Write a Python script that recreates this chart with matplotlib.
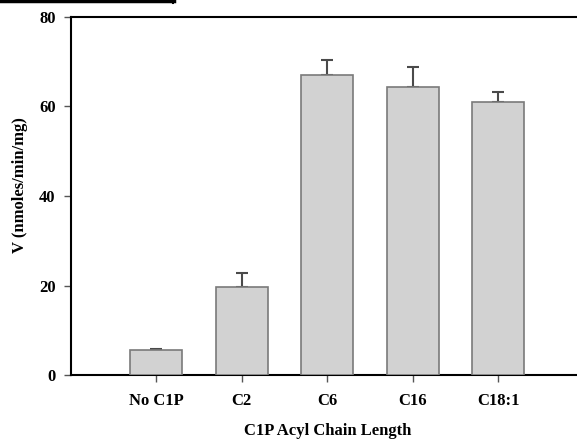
import matplotlib.pyplot as plt
from matplotlib.lines import Line2D

categories = ['No C1P', 'C2', 'C6', 'C16', 'C18:1']
rates = [5.5, 19.6, 67.1, 64.4, 61.0]
errors = [0.3, 3.1, 3.3, 4.4, 2.2]
yticks = [0, 20, 40, 60, 80]

plt.rcParams['font.family'] = ['Liberation Serif', 'DejaVu Serif']
plt.rcParams['font.weight'] = 'bold'

W, H = 577, 440
fig = plt.figure(figsize=(W / 100, H / 100), dpi=100)
ax = fig.add_axes([71 / W, 1 - 375 / H, (583.5 - 71) / W, (375 - 17) / H])

pos = list(range(1, len(categories) + 1))
ax.bar(pos, rates, width=0.61, color='#d2d2d2', edgecolor='#7a7a7a', linewidth=1.2, zorder=3)
ax.errorbar(pos, rates, yerr=[[0] * len(errors), errors], fmt='none', ecolor='#4a4a4a',
            elinewidth=1.5, capsize=4, capthick=1.5, zorder=2)

ax.set_xlim(0, 6)
ax.set_ylim(0, 80)
ax.set_xticks(pos)
ax.set_xticklabels(categories, fontsize=12, fontweight='bold')
ax.set_yticks(yticks)
ax.set_yticklabels([str(t) for t in yticks], fontsize=12, fontweight='bold')
ax.tick_params(direction='out', length=5, width=1, color='#555555', pad=6)
ax.tick_params(axis='x', pad=8)
ax.spines['right'].set_visible(False)
for s in ['left', 'bottom', 'top']:
    ax.spines[s].set_linewidth(1.5)

ax.set_ylabel('V (nmoles/min/mg)', fontsize=12, fontweight='bold')
ax.yaxis.set_label_coords((20 - 71) / 512.5, (375 - 185) / 358)
ax.yaxis.label.set_verticalalignment('center')
ax.set_xlabel('C1P Acyl Chain Length', fontsize=12, fontweight='bold')
ax.xaxis.set_label_coords(0.5, (375 - 431) / 358)
ax.xaxis.label.set_verticalalignment('center')

# cropped frame fragment at top-left
fig.add_artist(Line2D([0, 174 / W], [1 - 1.5 / H, 1 - 1.5 / H], color='black', lw=2.5))
fig.add_artist(Line2D([173 / W, 173 / W], [1, 1 - 3 / H], color='black', lw=1.5))

fig.savefig('out.png', dpi=100)
